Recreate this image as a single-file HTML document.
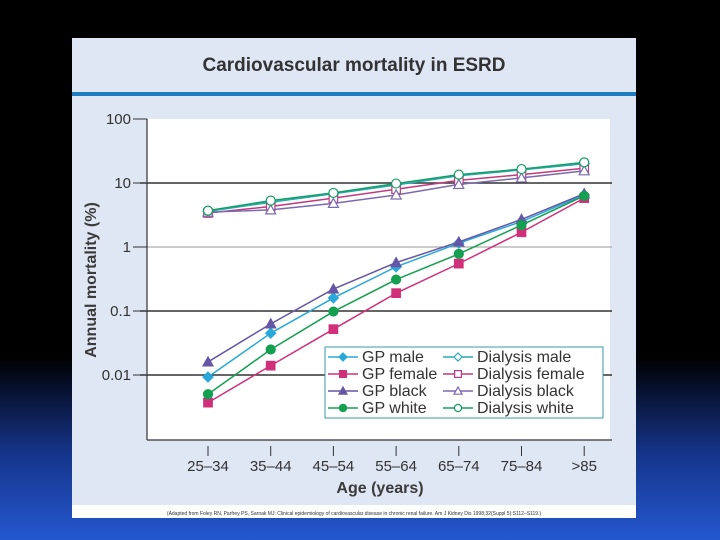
<!DOCTYPE html>
<html><head><meta charset="utf-8"><style>
body{margin:0;width:720px;height:540px;overflow:hidden;background:linear-gradient(#000 0%,#000 66%,#15348a 84%,#2458d0 100%);font-family:"Liberation Sans",sans-serif}
#panel{position:absolute;left:72px;top:38px;width:564px;height:480px;background:#dfe6f4}
</style></head><body>
<div id="panel"></div>
<svg width="720" height="540" style="position:absolute;left:0;top:0">
<text x="354" y="71" text-anchor="middle" font-size="19" font-weight="bold" fill="#333">Cardiovascular mortality in ESRD</text>
<rect x="72" y="92" width="564" height="4" fill="#1e7cc0"/>
<rect x="147" y="119" width="463" height="321" fill="#fff"/>
<rect x="72" y="505" width="564" height="13" fill="#fff"/>
<text x="354" y="515" text-anchor="middle" font-size="5" fill="#333">(Adapted from Foley RN, Parfrey PS, Sarnak MJ: Clinical epidemiology of cardiovascular disease in chronic renal failure. Am J Kidney Dis 1998;32(Suppl 5):S112–S119.)</text>
<g id="axes"></g><g id="series"></g>
<text transform="translate(96,280) rotate(-90)" text-anchor="middle" font-size="16" font-weight="bold" fill="#3a3a3a">Annual mortality (%)</text>
<text x="380" y="493" text-anchor="middle" font-size="16" font-weight="bold" fill="#3a3a3a">Age (years)</text>
<g id="legend"></g>
</svg>
<script>
const categories=["25–34","35–44","45–54","55–64","65–74","75–84",">85"];
const yTicks=[100,10,1,0.1,0.01];
const yTickLabels=["100","10","1","0.1","0.01"];
const seriesNames=["GP male","GP female","GP black","GP white","Dialysis male","Dialysis female","Dialysis black","Dialysis white"];
const gpMale=[0.0093,0.045,0.16,0.49,1.15,2.5,6.5];
const gpFemale=[0.0037,0.014,0.052,0.19,0.55,1.7,5.8];
const gpBlack=[0.016,0.063,0.22,0.57,1.2,2.7,6.8];
const gpWhite=[0.005,0.025,0.098,0.31,0.78,2.2,6.3];
const dialMale=[3.6,5,6.8,9.3,13,16,20];
const dialFemale=[3.4,4.3,5.8,8,11,13.5,17];
const dialBlack=[3.5,3.8,4.8,6.5,9.5,12,15.5];
const dialWhite=[3.7,5.3,7,9.8,13.5,16.5,21];
const NS="http://www.w3.org/2000/svg";
const X=i=>208+i*62.7;
const Y=v=>247-64*Math.log10(v);
function mk(t,a,p){const e=document.createElementNS(NS,t);for(const k in a)e.setAttribute(k,a[k]);p.appendChild(e);return e;}
const ax=document.getElementById('axes');
yTicks.forEach((v,i)=>{
  const y=Y(v);
  if(v!==100){const g=mk('line',{x1:140,x2:612,y1:y,y2:y,stroke:v===1?'#999':'#333','stroke-width':v===1?1:1.5},ax);
  
  }
  const t=mk('line',{x1:133,x2:147,y1:y,y2:y,stroke:'#333'},ax);
  
  
  const l=mk('text',{x:131,y:y+5,'text-anchor':'end','font-size':15,fill:'#333'},ax);l.textContent=yTickLabels[i];
  
  
});
let a1=mk('line',{x1:147,x2:147,y1:119,y2:440,stroke:'#333','stroke-width':1.2},ax);


let a2=mk('line',{x1:147,x2:612,y1:440,y2:440,stroke:'#333','stroke-width':1.2},ax);


categories.forEach((c,i)=>{
  const t=mk('line',{x1:X(i),x2:X(i),y1:446,y2:456,stroke:'#333'},ax);
  
  
  const l=mk('text',{x:X(i),y:471,'text-anchor':'middle','font-size':15,fill:'#333'},ax);l.textContent=c;
  
  
});
const defs=[[gpMale,'#2aa8d8','diamond',true],[gpFemale,'#d0307a','square',true],[gpBlack,'#6656a6','triangle',true],[gpWhite,'#13a050','circle',true],
[dialMale,'#2aa8b8','diamond',false],[dialFemale,'#c03a80','square',false],[dialBlack,'#7a6ab0','triangle',false],[dialWhite,'#13a060','circle',false]];
function marker(p,x,y,shape,col,filled,s){
  const f=filled?col:'#fff';let e;
  if(shape==='diamond')e=mk('polygon',{points:`${x},${y-s} ${x+s},${y} ${x},${y+s} ${x-s},${y}`,fill:f,stroke:col,'stroke-width':1.2},p);
  else if(shape==='square')e=mk('rect',{x:x-s*0.85,y:y-s*0.85,width:s*1.7,height:s*1.7,fill:f,stroke:col,'stroke-width':1.2},p);
  else if(shape==='triangle')e=mk('polygon',{points:`${x},${y-s} ${x+s},${y+s*0.8} ${x-s},${y+s*0.8}`,fill:f,stroke:col,'stroke-width':1.2},p);
  else e=mk('circle',{cx:x,cy:y,r:s*0.9,fill:f,stroke:col,'stroke-width':1.2},p);
  return e;
}
const sg=document.getElementById('series');
defs.forEach((d,k)=>{
  const g=mk('g',{},sg);
  
  
  const pl=mk('polyline',{points:d[0].map((v,i)=>X(i)+','+Y(v)).join(' '),fill:'none',stroke:d[1],'stroke-width':1.5},g);
  
  
  d[0].forEach((v,i)=>{const m=marker(g,X(i),Y(v),d[2],d[1],d[3],5);
    
    });
});
const lg=document.getElementById('legend');
const box=mk('rect',{x:325,y:347,width:278,height:71,fill:'#fff',stroke:'#3a9aa8','stroke-width':1},lg);


defs.forEach((d,k)=>{
  const col=k<4?0:1,row=k%4;
  const x0=col?443:328, y=357+row*17;
  const g=mk('g',{},lg);
  
  
  mk('line',{x1:x0,x2:x0+30,y1:y,y2:y,stroke:d[1],'stroke-width':1.5},g);
  marker(g,x0+15,y,d[2],d[1],d[3],4);
  const t=mk('text',{x:x0+34,y:y+5,'font-size':16,fill:'#333'},g);t.textContent=seriesNames[k];
});
</script>
</body></html>
